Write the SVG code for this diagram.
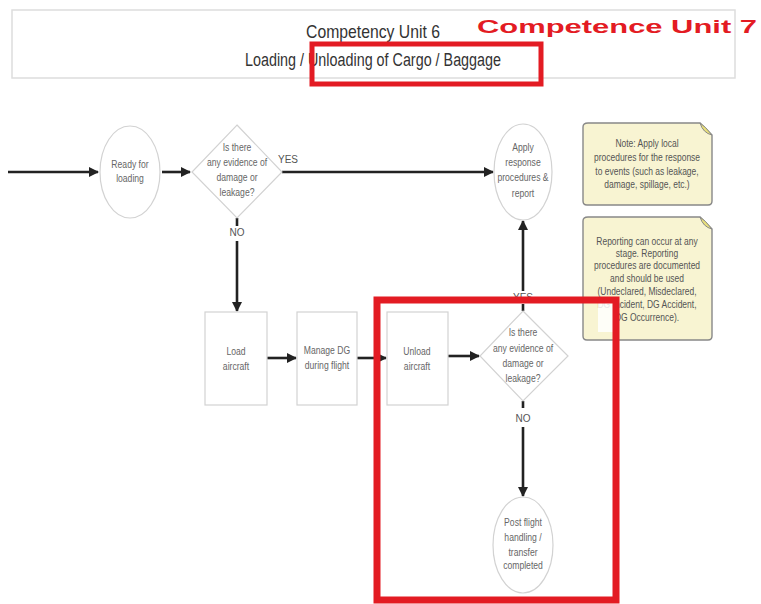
<svg xmlns="http://www.w3.org/2000/svg" width="761" height="604" viewBox="0 0 761 604">
<defs>
<marker id="ah" markerWidth="10" markerHeight="10" refX="9" refY="5" orient="auto" markerUnits="userSpaceOnUse">
<path d="M0,0 L10,5 L0,10 Z" fill="#222"/>
</marker>
<style>
.t{font-family:"Liberation Sans",Arial,sans-serif;font-size:10.5px;fill:#666;text-anchor:middle;}
.n{fill:#fff;stroke:#d2d2d2;stroke-width:1.2;}
.c{stroke:#222;stroke-width:2.6;fill:none;}
.note{fill:#f8f4d2;stroke:#888;stroke-width:1.4;}
.nt{font-family:"Liberation Sans",Arial,sans-serif;font-size:10px;fill:#555;text-anchor:middle;}
.lab{font-family:"Liberation Sans",Arial,sans-serif;font-size:10px;fill:#555;text-anchor:middle;}
.red{fill:none;stroke:#e31b23;}
</style>
</defs>
<rect width="761" height="604" fill="#fff"/>
<g id="header">
<rect x="12" y="10" width="723" height="68" fill="#fff" stroke="#ddd" stroke-width="1.5"/>
<text x="373" y="38" font-family="Liberation Sans,sans-serif" font-size="19" fill="#333" text-anchor="middle" textLength="134" lengthAdjust="spacingAndGlyphs">Competency Unit 6</text>
<text x="245" y="66" font-family="Liberation Sans,sans-serif" font-size="18" fill="#333" textLength="256" lengthAdjust="spacingAndGlyphs">Loading / Unloading of Cargo / Baggage</text>
<text x="477" y="33" font-family="Liberation Sans,Arial,sans-serif" font-size="19" font-weight="bold" fill="#e31b23" textLength="280" lengthAdjust="spacingAndGlyphs">Competence Unit 7</text>
</g>
<g id="connectors">
<line class="c" x1="8" y1="172" x2="98" y2="172" marker-end="url(#ah)"/>
<line class="c" x1="162" y1="172" x2="190" y2="172" marker-end="url(#ah)"/>
<line class="c" x1="282" y1="172" x2="493" y2="172" marker-end="url(#ah)"/>
<text class="lab" x="288" y="163">YES</text>
<line class="c" x1="237" y1="218" x2="237" y2="226"/>
<text class="lab" x="237" y="236">NO</text>
<line class="c" x1="237" y1="241" x2="237" y2="311" marker-end="url(#ah)"/>
<line class="c" x1="267" y1="358" x2="296" y2="358" marker-end="url(#ah)"/>
<line class="c" x1="357" y1="358" x2="386" y2="358" marker-end="url(#ah)"/>
<line class="c" x1="448" y1="356" x2="479" y2="356" marker-end="url(#ah)"/>
<line class="c" x1="523" y1="311" x2="523" y2="304"/>
<text class="lab" x="523" y="301">YES</text>
<line class="c" x1="523" y1="291" x2="523" y2="221" marker-end="url(#ah)"/>
<line class="c" x1="523" y1="401" x2="523" y2="408"/>
<text class="lab" x="523" y="422">NO</text>
<line class="c" x1="523" y1="427" x2="523" y2="496" marker-end="url(#ah)"/>
</g>
<g id="ready">
<ellipse class="n" cx="130" cy="172" rx="30" ry="46"/>
<g transform="translate(130 0) scale(0.82 1)">
<text class="t" x="0" y="168">Ready for</text>
<text class="t" x="0" y="182">loading</text>
</g>
</g>
<g id="decision1">
<polygon class="n" points="237,125 282,172 237,218 192,172"/>
<g transform="translate(237 0) scale(0.82 1)">
<text class="t" x="0" y="151">Is there</text>
<text class="t" x="0" y="166">any evidence of</text>
<text class="t" x="0" y="181">damage or</text>
<text class="t" x="0" y="196">leakage?</text>
</g>
</g>
<g id="apply">
<ellipse class="n" cx="523" cy="172" rx="29" ry="48"/>
<g transform="translate(523 0) scale(0.82 1)">
<text class="t" x="0" y="151">Apply</text>
<text class="t" x="0" y="166">response</text>
<text class="t" x="0" y="181">procedures &amp;</text>
<text class="t" x="0" y="197">report</text>
</g>
</g>
<g id="load">
<rect class="n" x="205" y="312" width="62" height="93"/>
<g transform="translate(236 0) scale(0.82 1)">
<text class="t" x="0" y="355">Load</text>
<text class="t" x="0" y="370">aircraft</text>
</g>
</g>
<g id="manage">
<rect class="n" x="297" y="312" width="60" height="93"/>
<g transform="translate(327 0) scale(0.82 1)">
<text class="t" x="0" y="354">Manage DG</text>
<text class="t" x="0" y="369">during flight</text>
</g>
</g>
<g id="unload">
<rect class="n" x="387" y="312" width="61" height="93"/>
<g transform="translate(417 0) scale(0.82 1)">
<text class="t" x="0" y="355">Unload</text>
<text class="t" x="0" y="370">aircraft</text>
</g>
</g>
<g id="decision2">
<polygon class="n" points="523,311 568,356 523,401 480,356"/>
<g transform="translate(523 0) scale(0.82 1)">
<text class="t" x="0" y="336">Is there</text>
<text class="t" x="0" y="352">any evidence of</text>
<text class="t" x="0" y="367">damage or</text>
<text class="t" x="0" y="382">leakage?</text>
</g>
</g>
<g id="post">
<ellipse class="n" cx="523" cy="545" rx="30" ry="48"/>
<g transform="translate(523 0) scale(0.82 1)">
<text class="t" x="0" y="526">Post flight</text>
<text class="t" x="0" y="541">handling /</text>
<text class="t" x="0" y="556">transfer</text>
<text class="t" x="0" y="569">completed</text>
</g>
</g>
<g id="note1">
<path class="note" d="M588,123 H700 L712,135 V201 Q712,205 708,205 H587 Q583,205 583,201 V127 Q583,123 588,123 Z"/>
<path d="M700,123 Q703,133 712,135 Q705,126 700,123 Z" fill="#e8df7a" stroke="#888" stroke-width="1"/>
<g transform="translate(647 0) scale(0.85 1)">
<text class="nt" x="0" y="147">Note: Apply local</text>
<text class="nt" x="0" y="161">procedures for the response</text>
<text class="nt" x="0" y="175">to events (such as leakage,</text>
<text class="nt" x="0" y="188">damage, spillage, etc.)</text>
</g>
</g>
<g id="note2">
<path class="note" d="M588,217 H700 L712,229 V336 Q712,340 708,340 H587 Q583,340 583,336 V221 Q583,217 588,217 Z"/>
<path d="M700,217 Q703,227 712,229 Q705,220 700,217 Z" fill="#e8df7a" stroke="#888" stroke-width="1"/>
<g transform="translate(647 0) scale(0.85 1)">
<text class="nt" x="0" y="245">Reporting can occur at any</text>
<text class="nt" x="0" y="257">stage.  Reporting</text>
<text class="nt" x="0" y="269">procedures are documented</text>
<text class="nt" x="0" y="282">and should be used</text>
<text class="nt" x="0" y="295">(Undeclared, Misdeclared,</text>
<text class="nt" x="0" y="308">DG Incident, DG Accident,</text>
<text class="nt" x="0" y="321">DG Occurrence).</text>
</g>
</g>
<g id="highlights">
<rect x="598" y="300" width="16" height="32" fill="#fff" opacity="0.85"/>
<rect class="red" x="312" y="44" width="229" height="40" stroke-width="5"/>
<rect class="red" x="377" y="300" width="239" height="300" stroke-width="7"/>
</g>
</svg>
